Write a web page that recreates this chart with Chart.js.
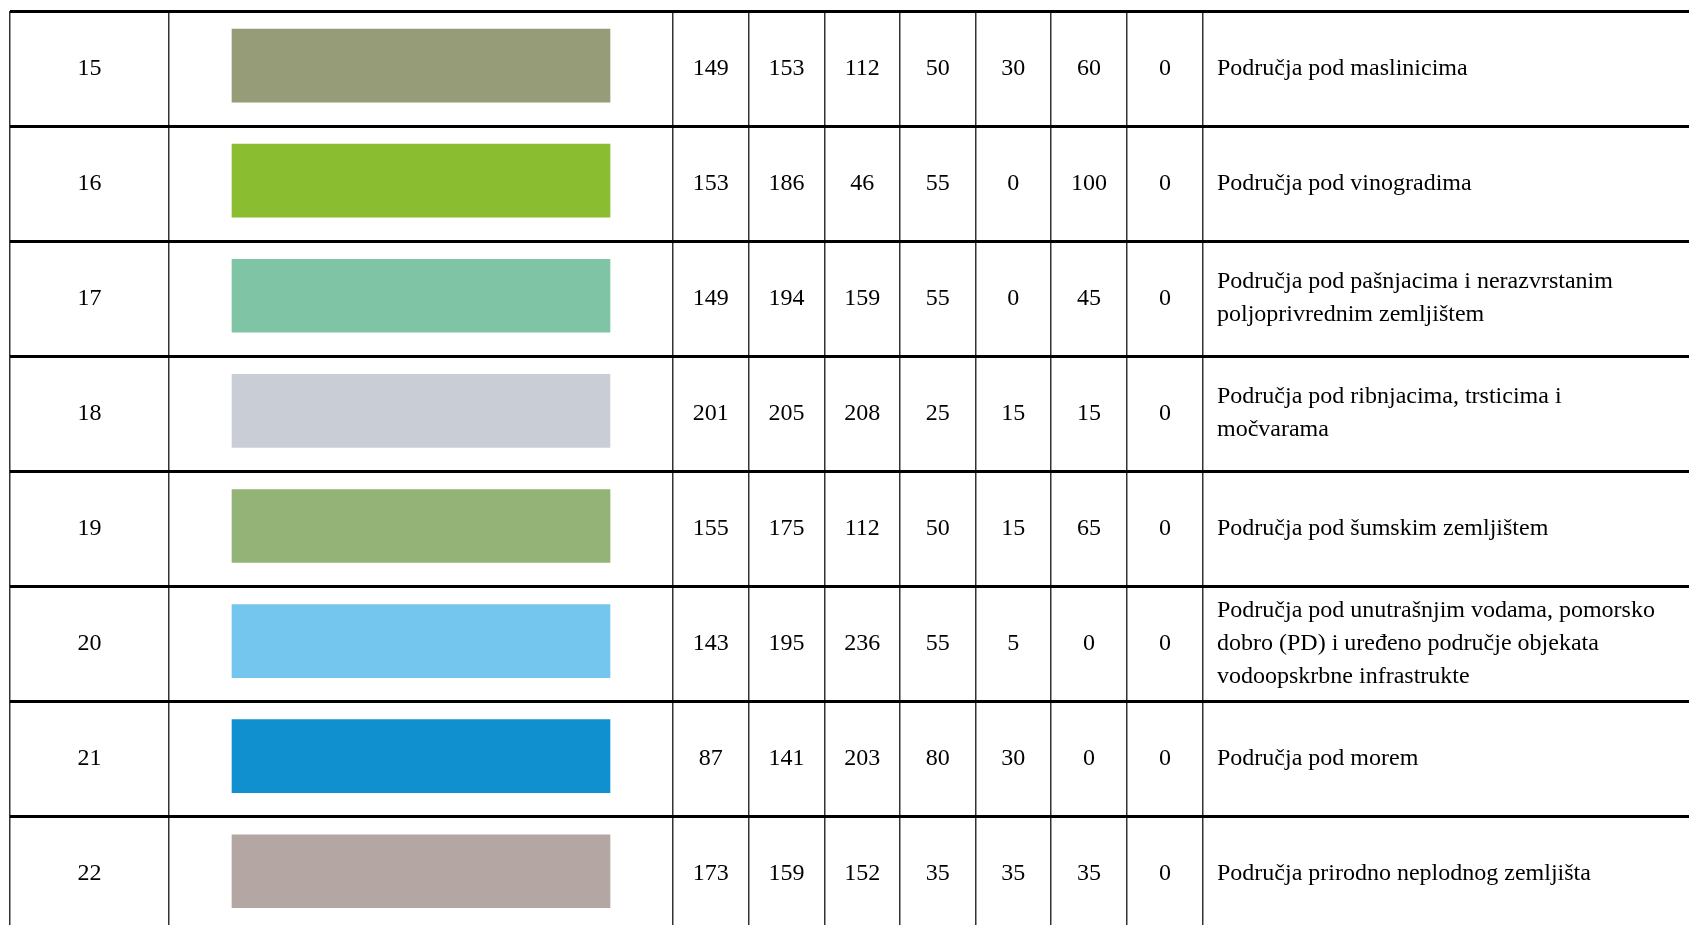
<!DOCTYPE html>
<html>
<head>
<meta charset="utf-8">
<script src="https://cdn.jsdelivr.net/npm/chart.js@4/dist/chart.umd.min.js"></script>
<style>
html,body{margin:0;padding:0;background:#fff;overflow:hidden}
#wrap{width:1689px;height:925px;position:relative}
</style>
</head>
<body>
<div id="wrap"><canvas id="c"></canvas></div>
<script>
// ---------- DATA ----------
const ids = ['15','16','17','18','19','20','21','22'];
const R = [149,153,149,201,155,143,87,173];
const G = [153,186,194,205,175,195,141,159];
const B = [112,46,159,208,112,236,203,152];
const C = [50,55,55,25,50,55,80,35];
const M = [30,0,0,15,15,5,30,35];
const Y = [60,100,45,15,65,0,0,35];
const K = [0,0,0,0,0,0,0,0];
const descriptions = [
  ['Područja pod maslinicima'],
  ['Područja pod vinogradima'],
  ['Područja pod pašnjacima i nerazvrstanim','poljoprivrednim zemljištem'],
  ['Područja pod ribnjacima, trsticima i','močvarama'],
  ['Područja pod šumskim zemljištem'],
  ['Područja pod unutrašnjim vodama, pomorsko','dobro (PD) i uređeno područje objekata','vodoopskrbne infrastrukte'],
  ['Područja pod morem'],
  ['Područja prirodno neplodnog zemljišta']
];

// ---------- STYLE / LAYOUT ----------
const swatchColors = ['#959C77','#8ABD2F','#7FC4A4','#C9CED6','#93B377','#75C6EE','#1190CF','#B4A6A2'];
const colEdges = [0,159,663,738.7,814.5,890,965.7,1041,1117,1193]; // x-scale units
const xMax = 1679;
const swatchSpan = [222,600];
const descX = 1207;
const rowShift = 0.026;        // content sits slightly above row centre
const rowH = 115.1;
const rowsVisible = 914/rowH;
const yMin = -0.5 + rowShift;
const yMax = yMin + rowsVisible;
const FONT = '24px "Liberation Serif", "Times New Roman", serif';
const lineGap = 33;

const numberCols = [R,G,B,C,M,Y,K];

const tableText = {
  id: 'tableText',
  afterDatasetsDraw(chart) {
    const ctx = chart.ctx, xs = chart.scales.x, ys = chart.scales.y;
    ctx.save();
    ctx.font = FONT;
    ctx.fillStyle = '#000';
    ctx.textBaseline = 'alphabetic';
    ids.forEach((id, i) => {
      const yc = ys.getPixelForValue(i);
      const base = yc + 9;
      ctx.textAlign = 'center';
      ctx.fillText(id, xs.getPixelForValue((colEdges[0]+colEdges[1])/2), base);
      numberCols.forEach((arr, k) => {
        const cx = xs.getPixelForValue((colEdges[k+2]+colEdges[k+3])/2);
        ctx.fillText(String(arr[i]), cx, base);
      });
      ctx.textAlign = 'left';
      const lines = descriptions[i];
      lines.forEach((ln, j) => {
        ctx.fillText(ln, xs.getPixelForValue(descX), base + (j - (lines.length-1)/2) * lineGap);
      });
    });
    ctx.restore();
  }
};

new Chart(document.getElementById('c'), {
  type: 'bar',
  data: {
    datasets: [{
      data: ids.map((id, i) => ({ y: i, x: swatchSpan })),
      backgroundColor: swatchColors,
      borderWidth: 0,
      barThickness: 73
    }]
  },
  options: {
    indexAxis: 'y',
    responsive: true,
    maintainAspectRatio: false,
    animation: false,
    events: [],
    layout: { padding: { left: 10, top: 11, right: 0, bottom: 0 } },
    plugins: { legend: { display: false }, tooltip: { enabled: false } },
    scales: {
      x: {
        type: 'linear', min: 0, max: xMax, offset: false,
        afterBuildTicks: s => { s.ticks = colEdges.map(v => ({ value: v })); },
        ticks: { display: false },
        grid: { drawTicks: false, offset: false, color: '#333', lineWidth: 1.5 },
        border: { display: false }
      },
      y: {
        type: 'linear', reverse: true, min: yMin, max: yMax, offset: false,
        afterBuildTicks: s => {
          const t = [];
          for (let i = 0; i <= ids.length; i++) { const v = i - 0.5 + rowShift; if (v <= yMax) t.push({ value: v }); }
          s.ticks = t;
        },
        ticks: { display: false },
        grid: { drawTicks: false, offset: false, color: '#000', lineWidth: 3 },
        border: { display: false }
      }
    }
  },
  plugins: [tableText]
});
</script>
</body>
</html>
